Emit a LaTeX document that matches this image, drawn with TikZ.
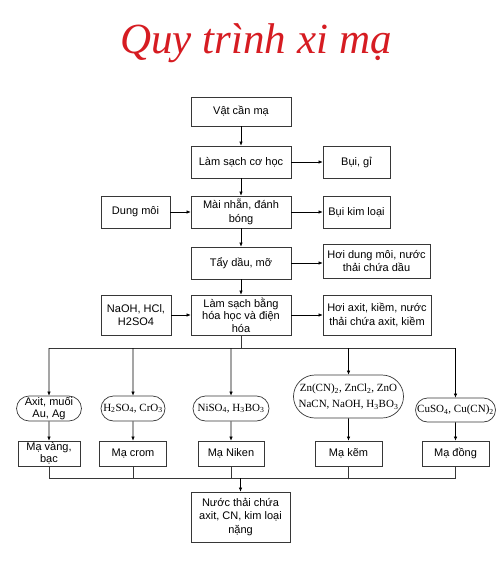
\documentclass[tikz,border=0pt]{standalone}
\usepackage{fontspec}
\setmainfont{Liberation Sans}
\newfontfamily\chemfont{Liberation Serif}
\usetikzlibrary{arrows.meta,positioning,shapes.misc}
\definecolor{ttl}{RGB}{214,28,34}
\definecolor{ln}{RGB}{55,55,55}

\begin{document}
\begin{tikzpicture}[x=1pt,y=-1pt,
  box/.style={rectangle,draw=ln,line width=0.7pt,align=center,inner sep=1pt,
              font=\fontsize{11}{13.5}\selectfont},
  oval/.style={rounded rectangle,draw=ln,line width=0.7pt,align=center,inner sep=1pt,
               minimum height=25pt,font=\chemfont\fontsize{11}{16}\selectfont},
  arr/.style={-{Latex[length=4pt,width=3.5pt]},draw=black,line width=0.6pt},
  bus/.style={draw=ln,line width=0.6pt}]
  \useasboundingbox (0,0) rectangle (500,572);

  \node (title) [font=\chemfont\itshape\fontsize{43}{43}\selectfont,text=ttl]
    at (256,43) {Quy trình xi mạ};

  % main column
  \node (vat) [box,minimum width=100pt,minimum height=29pt] at (241,111.5) {Vật cần mạ};
  \node (cohoc) [box,minimum width=100pt,minimum height=32pt] at (241,162) {Làm sạch cơ học};
  \node (mai) [box,minimum width=100pt,minimum height=32pt] at (241,212)
    {Mài nhẵn, đánh\\bóng};
  \node (tay) [box,minimum width=100pt,minimum height=32pt] at (241,263) {Tẩy dầu, mỡ};
  \node (hoahoc) [box,minimum width=100pt,minimum height=40pt,font=\fontsize{11}{12.5}\selectfont]
    at (241,315) {Làm sạch bằng\\hóa học và điện\\hóa};

  % side boxes
  \node (bui) [box,minimum width=67pt,minimum height=32pt] at (356.5,162) {Bụi, gỉ};
  \node (dung) [box,minimum width=69pt,minimum height=32pt] at (135.5,212) {Dung môi};
  \node (buikl) [box,minimum width=67pt,minimum height=32pt] at (356.5,212) {Bụi kim loại};
  \node (hoidm) [box,minimum width=107pt,minimum height=34pt] at (376.5,261)
    {Hơi dung môi, nước\\thải chứa dầu};
  \node (naoh) [box,minimum width=70pt,minimum height=40pt] at (136,315)
    {NaOH, HCl,\\H2SO4};
  \node (hoiax) [box,minimum width=108pt,minimum height=40pt] at (377,315)
    {Hơi axit, kiềm, nước\\thải chứa axit, kiềm};

  % plating baths
  \node (o1) [oval,minimum width=64pt,font=\fontsize{11}{12}\selectfont] at (49,408.5)
    {Axit, muối\\Au, Ag};
  \node (o2) [oval,minimum width=66pt] at (133,408.5)
    {H\textsubscript{2}SO\textsubscript{4}, CrO\textsubscript{3}};
  \node (o3) [oval,minimum width=78pt] at (231,408.5)
    {NiSO\textsubscript{4}, H\textsubscript{3}BO\textsubscript{3}};
  \node (o4) [oval,minimum width=108pt,minimum height=43pt] at (348.5,396.5)
    {Zn(CN)\textsubscript{2}, ZnCl\textsubscript{2}, ZnO\\NaCN, NaOH, H\textsubscript{3}BO\textsubscript{3}};
  \node (o5) [oval,minimum width=82pt,minimum height=24pt] at (455.5,410)
    {CuSO\textsubscript{4}, Cu(CN)\textsubscript{2}};

  \node (m1) [box,minimum width=62pt,minimum height=25pt,font=\fontsize{11}{12}\selectfont]
    at (49,453.5) {Mạ vàng,\\bạc};
  \node (m2) [box,minimum width=67pt,minimum height=25pt] at (133,453.5) {Mạ crom};
  \node (m3) [box,minimum width=66pt,minimum height=25pt] at (231,453.5) {Mạ Niken};
  \node (m4) [box,minimum width=67pt,minimum height=25pt] at (348.5,453.5) {Mạ kẽm};
  \node (m5) [box,minimum width=67pt,minimum height=25pt] at (455.5,453.5) {Mạ đồng};

  \node (nuoc) [box,minimum width=99pt,minimum height=50pt,font=\fontsize{11}{13.5}\selectfont]
    at (240.5,517) {Nước thải chứa\\axit, CN, kim loại\\nặng};

  % flow
  \draw[arr] (vat) -- (cohoc);
  \draw[arr] (cohoc) -- (mai);
  \draw[arr] (mai) -- (tay);
  \draw[arr] (tay) -- (hoahoc);
  \draw[arr] (cohoc) -- (bui);
  \draw[arr] (dung) -- (mai);
  \draw[arr] (mai) -- (buikl);
  \draw[arr] (tay) -- (hoidm.west |- tay);
  \draw[arr] (naoh) -- (hoahoc);
  \draw[arr] (hoahoc) -- (hoiax);

  % split and join
  \coordinate (top) at (0,348);
  \coordinate (bot) at (0,478);
  \draw[bus] (hoahoc.south) -- (hoahoc |- top);
  \draw[bus] (o1 |- top) -- (o5 |- top);
  \foreach \i in {1,...,5}{
    \draw[arr] (o\i |- top) -- (o\i);
    \draw[arr] (o\i) -- (m\i);
    \draw[bus] (m\i.south) -- (m\i |- bot);
  }
  \draw[bus] (m1 |- bot) -- (m5 |- bot);
  \draw[arr] (nuoc |- bot) -- (nuoc);
\end{tikzpicture}
\end{document}
